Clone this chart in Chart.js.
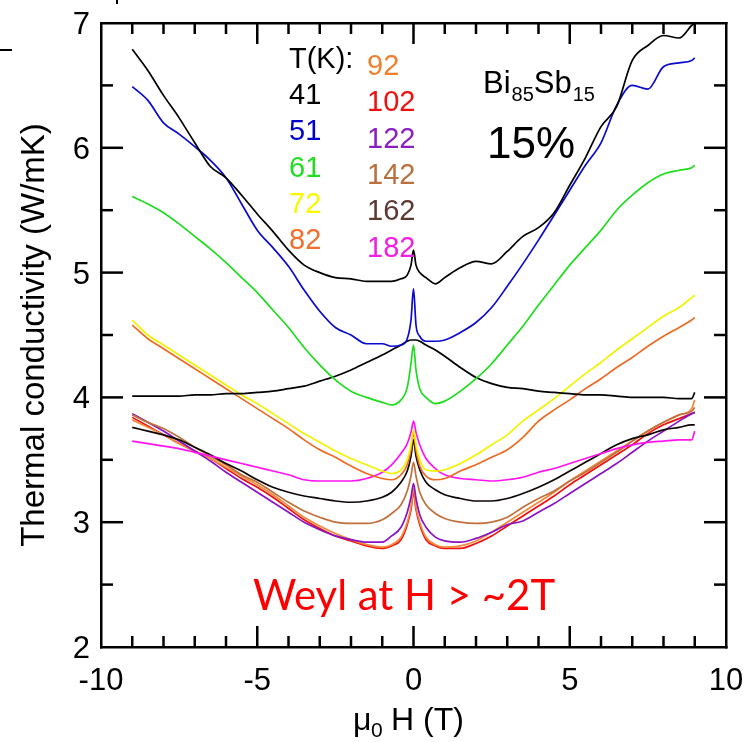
<!DOCTYPE html>
<html>
<head>
<meta charset="utf-8">
<script src="https://cdn.jsdelivr.net/npm/chart.js@4.4.1/dist/chart.umd.min.js"></script>
<style>
  html, body { margin: 0; padding: 0; background: #fff; }
  canvas { display: block; }
</style>
</head>
<body>
<canvas id="chart" width="747" height="742"></canvas>
<script>
// field values (T) shared by all curves
const fieldT = [-9,-8.5,-8,-7.5,-7,-6.5,-6,-5.5,-5,-4.5,-4,-3.5,-3,-2.5,-2,-1.5,-1,
  -0.7,-0.4,-0.2,-0.08,0,0.08,0.2,0.4,0.7,
  1,1.5,2,2.5,3,3.5,4,4.5,5,5.5,6,6.5,7,7.5,8,8.5,8.9,9];

// thermal conductivity (W/mK)
const k41 = [6.79,6.62,6.42,6.24,6.04,5.85,5.76,5.62,5.47,5.33,5.18,5.06,5.00,4.96,4.95,4.93,4.93,
  4.93,4.95,4.98,5.06,5.18,5.06,5.00,4.96,4.91,
  4.96,5.04,5.09,5.07,5.17,5.29,5.36,5.48,5.70,5.92,6.17,6.33,6.70,6.82,6.90,6.88,6.98,7.00];
const k51 = [6.49,6.38,6.20,6.11,6.01,5.90,5.76,5.55,5.34,5.20,5.05,4.86,4.69,4.56,4.50,4.43,4.43,
  4.41,4.42,4.47,4.62,4.87,4.58,4.49,4.45,4.45,
  4.46,4.52,4.60,4.72,4.89,5.07,5.26,5.46,5.66,5.86,6.04,6.34,6.50,6.47,6.65,6.68,6.70,6.72];
const k61 = [5.61,5.55,5.48,5.39,5.29,5.19,5.08,4.96,4.84,4.70,4.56,4.40,4.26,4.14,4.05,4.00,3.96,
  3.94,3.98,4.08,4.27,4.42,4.22,4.07,4.00,3.95,
  3.97,4.05,4.15,4.27,4.42,4.57,4.74,4.90,5.06,5.20,5.34,5.50,5.62,5.72,5.79,5.82,5.84,5.86];
const k72 = [4.62,4.50,4.42,4.34,4.26,4.18,4.10,4.02,3.95,3.87,3.79,3.71,3.64,3.57,3.51,3.46,3.41,
  3.39,3.42,3.50,3.62,3.74,3.62,3.50,3.42,3.41,
  3.42,3.47,3.54,3.62,3.70,3.81,3.90,3.99,4.09,4.19,4.28,4.38,4.47,4.56,4.65,4.72,4.80,4.82];
const k82 = [4.58,4.47,4.39,4.31,4.23,4.15,4.07,3.99,3.91,3.83,3.75,3.66,3.58,3.52,3.45,3.39,3.35,
  3.34,3.38,3.46,3.58,3.72,3.58,3.45,3.37,3.34,
  3.35,3.41,3.46,3.52,3.58,3.68,3.81,3.90,3.98,4.07,4.15,4.24,4.32,4.41,4.49,4.56,4.62,4.64];
const k92 = [3.82,3.76,3.70,3.63,3.57,3.51,3.44,3.37,3.30,3.22,3.13,3.04,2.97,2.91,2.86,2.82,2.80,
  2.82,2.88,3.00,3.12,3.27,3.12,3.00,2.88,2.82,
  2.80,2.81,2.85,2.92,3.00,3.08,3.16,3.24,3.33,3.41,3.49,3.57,3.65,3.73,3.80,3.86,3.91,3.98];
const k102 = [3.84,3.77,3.70,3.63,3.57,3.51,3.43,3.35,3.28,3.20,3.11,3.02,2.95,2.89,2.85,2.81,2.79,
  2.81,2.86,2.98,3.10,3.24,3.10,2.98,2.86,2.81,
  2.79,2.79,2.83,2.89,2.97,3.05,3.13,3.21,3.30,3.38,3.46,3.54,3.62,3.71,3.78,3.83,3.87,3.88];
const k122 = [3.87,3.80,3.73,3.65,3.57,3.49,3.40,3.32,3.24,3.16,3.08,3.00,2.94,2.89,2.86,2.84,2.84,
  2.89,2.96,3.08,3.20,3.31,3.19,3.06,2.96,2.88,
  2.85,2.84,2.87,2.92,2.98,3.01,3.08,3.15,3.23,3.31,3.39,3.47,3.56,3.65,3.73,3.81,3.87,3.88];
const k142 = [3.86,3.80,3.75,3.68,3.60,3.53,3.46,3.38,3.32,3.24,3.16,3.09,3.04,3.00,2.99,2.99,3.02,
  3.07,3.14,3.25,3.37,3.48,3.37,3.24,3.14,3.07,
  3.03,3.00,2.99,3.00,3.04,3.12,3.19,3.25,3.33,3.40,3.48,3.56,3.65,3.73,3.80,3.86,3.89,3.92];
const k162 = [3.76,3.73,3.70,3.66,3.60,3.54,3.47,3.41,3.34,3.28,3.24,3.21,3.19,3.17,3.16,3.17,3.20,
  3.24,3.32,3.41,3.53,3.66,3.53,3.42,3.32,3.26,
  3.22,3.19,3.17,3.17,3.19,3.23,3.28,3.34,3.41,3.48,3.55,3.62,3.67,3.70,3.74,3.76,3.78,3.78];
const k182 = [3.65,3.63,3.61,3.59,3.56,3.53,3.50,3.47,3.44,3.41,3.38,3.34,3.33,3.33,3.33,3.35,3.40,
  3.46,3.55,3.63,3.72,3.81,3.72,3.62,3.51,3.43,
  3.38,3.35,3.34,3.33,3.34,3.36,3.40,3.43,3.47,3.51,3.55,3.59,3.62,3.64,3.65,3.66,3.66,3.73];
// black curve with the broad maximum (not named in the T list)
const kBroad = [4.01,4.01,4.01,4.01,4.02,4.02,4.03,4.03,4.04,4.05,4.07,4.09,4.13,4.17,4.22,4.28,4.34,
  4.38,4.42,4.45,4.46,4.46,4.46,4.45,4.42,4.38,
  4.33,4.24,4.16,4.11,4.08,4.07,4.05,4.04,4.03,4.02,4.02,4.01,4.00,4.00,4.00,3.99,3.99,4.04];

const xTickLabels = [-10, -5, 0, 5, 10];
const yTickLabels = [2, 3, 4, 5, 6, 7];
const xMinorTicks = [-9,-8,-7,-6,-5,-4,-3,-2,-1,0,1,2,3,4,5,6,7,8,9];
const yMinorTicks = [2.5, 3, 3.5, 4, 4.5, 5, 5.5, 6, 6.5];
const tempsLeft = ['41', '51', '61', '72', '82'];
const tempsRight = ['92', '102', '122', '142', '162', '182'];

const curves = [
  { label: '41 K', values: k41, color: '#000000' },
  { label: '51 K', values: k51, color: '#0a0acd' },
  { label: '61 K', values: k61, color: '#1edc1e' },
  { label: 'broad', values: kBroad, color: '#000000' },
  { label: '72 K', values: k72, color: '#f2f200' },
  { label: '82 K', values: k82, color: '#ec6a22' },
  { label: '182 K', values: k182, color: '#ff14f0' },
  { label: '162 K', values: k162, color: '#0d0604' },
  { label: '142 K', values: k142, color: '#c0703c' },
  { label: '122 K', values: k122, color: '#8a12c2' },
  { label: '92 K', values: k92, color: '#f28a3a' },
  { label: '102 K', values: k102, color: '#f01010' }
];
const colLeft = ['#000000', '#0000cc', '#22dd22', '#f8f800', '#f07030'];
const colRight = ['#f08030', '#ee1111', '#8b1fc0', '#b8703e', '#5c3a32', '#f020e0'];

const SANS = '"Liberation Sans", Arial, sans-serif';

const decor = {
  id: 'decor',
  afterDraw(chart) {
    const { ctx, chartArea: a, scales } = chart;
    const sx = scales.x, sy = scales.y;
    ctx.save();
    ctx.fillStyle = '#000';

    // frame
    const L = Math.round(a.left), R = Math.round(a.right);
    const T = Math.round(a.top), B = Math.round(a.bottom);
    ctx.fillRect(L - 1, T - 1, R - L + 2.5, 2.5);
    ctx.fillRect(L - 1, B - 1, R - L + 2.5, 2.5);
    ctx.fillRect(L - 1, T - 1, 2.5, B - T + 2.5);
    ctx.fillRect(R - 1, T - 1, 2.5, B - T + 2.5);

    // inward ticks on all four sides
    xMinorTicks.forEach(v => {
      const px = sx.getPixelForValue(v);
      const len = v % 5 === 0 ? 21 : 11;
      ctx.fillRect(px - 1.25, B - len, 2.5, len);
      ctx.fillRect(px - 1.25, T, 2.5, len);
    });
    yMinorTicks.forEach(v => {
      const py = sy.getPixelForValue(v);
      const len = Number.isInteger(v) ? 22 : 12;
      ctx.fillRect(L, py - 1.25, len, 2.5);
      ctx.fillRect(R - len, py - 1.25, len, 2.5);
    });

    // stray marks at the top-left of the crop
    ctx.fillRect(0, 49, 12, 2);
    ctx.fillRect(116, 0, 2, 4);

    // tick labels
    ctx.font = '31px ' + SANS;
    ctx.textAlign = 'right';
    ctx.textBaseline = 'alphabetic';
    yTickLabels.forEach(v => ctx.fillText(String(v), L - 11, sy.getPixelForValue(v) + 11));
    ctx.textAlign = 'center';
    xTickLabels.forEach(v => ctx.fillText(String(v), sx.getPixelForValue(v), 690));

    // axis titles
    ctx.save();
    ctx.translate(43.5, (T + B) / 2);
    ctx.rotate(-Math.PI / 2);
    ctx.font = '33px ' + SANS;
    ctx.textAlign = 'center';
    ctx.fillText('Thermal conductivity (W/mK)', 0, 0);
    ctx.restore();

    ctx.textAlign = 'left';
    ctx.font = '32px ' + SANS;
    ctx.fillText('\u03bc', 353, 730);
    ctx.font = '21px ' + SANS;
    ctx.fillText('0', 371, 737);
    ctx.font = '32px ' + SANS;
    ctx.fillText('H (T)', 391, 730);

    // temperature list
    ctx.font = '29px ' + SANS;
    ctx.fillText('T(K):', 289, 68);
    tempsLeft.forEach((t, i) => {
      ctx.fillStyle = colLeft[i];
      ctx.fillText(t, 289, 104 + i * 36.3);
    });
    tempsRight.forEach((t, i) => {
      ctx.fillStyle = colRight[i];
      ctx.fillText(t, 367, 75 + i * 36.3);
    });

    // sample name
    ctx.fillStyle = '#000';
    let cx = 483;
    [['Bi', 31, 93], ['85', 20, 101], ['Sb', 31, 93], ['15', 20, 101]].forEach(([s, f, by]) => {
      ctx.font = f + 'px ' + SANS;
      ctx.fillText(s, cx, by);
      cx += ctx.measureText(s).width + (f > 25 ? 1 : 0);
    });
    ctx.font = '44px ' + SANS;
    ctx.fillText('15%', 487, 158);

    // annotation
    const note = 'Weyl at H > ~2T';
    ctx.font = '40px Lato, "Open Sans", sans-serif';
    const w = ctx.measureText(note).width;
    ctx.font = (40 * 302 / w).toFixed(1) + 'px Lato, "Open Sans", sans-serif';
    ctx.fillStyle = '#ff0000';
    ctx.fillText(note, 253, 610);
    ctx.restore();
  }
};

new Chart(document.getElementById('chart'), {
  type: 'line',
  data: {
    datasets: curves.map(c => ({
      label: c.label,
      data: fieldT.map((h, i) => ({ x: h, y: c.values[i] })),
      borderColor: c.color,
      borderWidth: 1.7,
      pointRadius: 0,
      fill: false,
      cubicInterpolationMode: 'monotone'
    }))
  },
  options: {
    responsive: false,
    animation: false,
    events: [],
    layout: { padding: { top: 23, right: 21, left: 0, bottom: 0 } },
    plugins: { legend: { display: false }, tooltip: { enabled: false } },
    scales: {
      x: {
        type: 'linear', min: -10, max: 10,
        grid: { display: false }, border: { display: false },
        ticks: { display: false },
        afterFit: s => { s.height = 95; }
      },
      y: {
        type: 'linear', min: 2, max: 7,
        grid: { display: false }, border: { display: false },
        ticks: { display: false },
        afterFit: s => { s.width = 101; }
      }
    }
  },
  plugins: [decor]
});
</script>
</body>
</html>
